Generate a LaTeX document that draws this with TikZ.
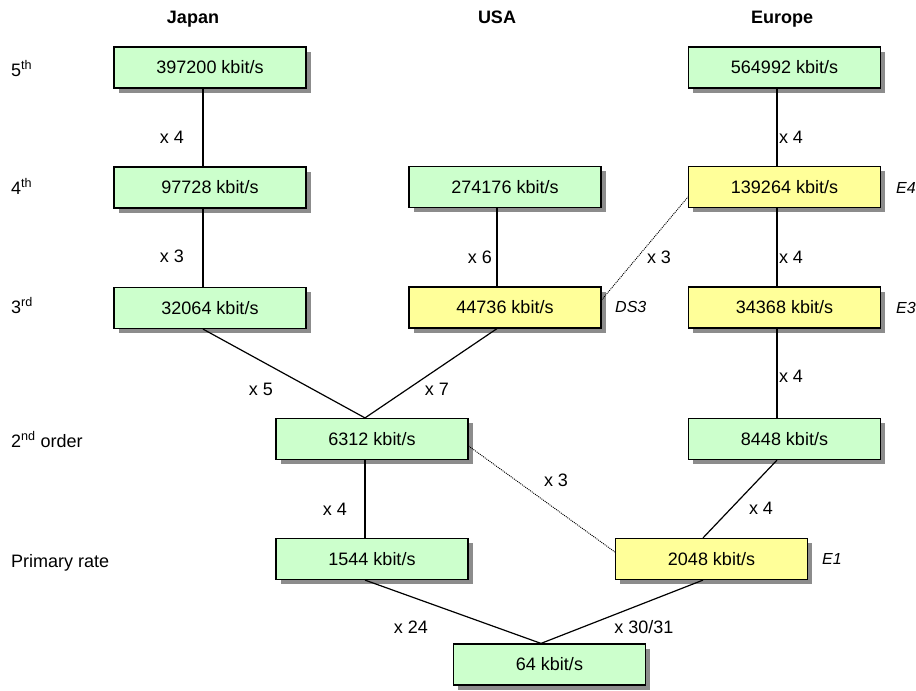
\documentclass[tikz,border=0pt]{standalone}
\usepackage{fontspec}
\setmainfont{Liberation Sans}
\usetikzlibrary{shadows}
\definecolor{ratgreen}{HTML}{CCFFCC}
\definecolor{ratyellow}{HTML}{FFFF99}
\begin{document}
\begin{tikzpicture}[x=1pt,y=-1pt,
  ratebox/.style={draw=black, line width=1.2pt, minimum width=192pt, minimum height=41pt,
    inner sep=0pt, font=\fontsize{18}{21}\selectfont,
    drop shadow={shadow xshift=4.5pt, shadow yshift=-4.5pt, opacity=1, fill=black!45}},
  gbox/.style={ratebox, fill=ratgreen},
  ybox/.style={ratebox, fill=ratyellow},
  link/.style={draw=black, line width=1.2pt},
  dotlink/.style={draw=black, line width=0.9pt, dash pattern=on 1pt off 1pt},
  mult/.style={font=\fontsize{18}{21}\selectfont, inner sep=0pt},
  rowlbl/.style={font=\fontsize{18}{21}\selectfont, inner sep=0pt, anchor=base west},
  head/.style={font=\bfseries\fontsize{18}{21}\selectfont, inner sep=0pt, anchor=base},
  tag/.style={font=\itshape\fontsize{16}{19}\selectfont, inner sep=0pt, anchor=west}]
\useasboundingbox (0,0) rectangle (916,691);

% column headings
\node[head] (hJ) at (193,23) {Japan};
\node[head] (hU) at (497,23) {USA};
\node[head] (hE) at (782,23) {Europe};

% hierarchy levels
\node[rowlbl] (r5) at (11,76) {5\textsuperscript{th}};
\node[rowlbl] (r4) at (11,194) {4\textsuperscript{th}};
\node[rowlbl] (r3) at (11,313) {3\textsuperscript{rd}};
\node[rowlbl] (r2) at (11,447) {2\textsuperscript{nd} order};
\node[rowlbl] (r1) at (11,567) {Primary rate};

% Japan
\node[gbox] (J5) at (210,67.5) {397200 kbit/s};
\node[gbox] (J4) at (210,187.5) {97728 kbit/s};
\node[gbox] (J3) at (210,308) {32064 kbit/s};
% USA
\node[gbox] (U4) at (505,187) {274176 kbit/s};
\node[ybox] (U3) at (505,307.5) {44736 kbit/s};
% Japan / USA shared
\node[gbox] (M2) at (372,439) {6312 kbit/s};
\node[gbox] (M1) at (372,559) {1544 kbit/s};
% Europe
\node[gbox] (E5) at (784.5,67.5) {564992 kbit/s};
\node[ybox] (E4) at (784.5,187) {139264 kbit/s};
\node[ybox] (E3) at (784.5,307.5) {34368 kbit/s};
\node[gbox] (E2) at (784.5,439) {8448 kbit/s};
\node[ybox] (E1) at (711.5,559) {2048 kbit/s};
% base channel
\node[gbox] (B) at (549.5,664.5) {64 kbit/s};

% standard designations
\node[tag] (tE4) at (896,188) {E4};
\node[tag] (tDS3) at (615,307) {DS3};
\node[tag] (tE3) at (896,308) {E3};
\node[tag] (tE1) at (822,559) {E1};

% multiplexing links
\draw[link] ([xshift=-7pt]J5.south) -- ([xshift=-7pt]J4.north);
\draw[link] ([xshift=-7pt]J4.south) -- ([xshift=-7pt]J3.north);
\draw[link] ([xshift=-8pt]U4.south) -- ([xshift=-8pt]U3.north);
\draw[link] ([xshift=-7.5pt]E5.south) -- ([xshift=-7.5pt]E4.north);
\draw[link] ([xshift=-7.5pt]E4.south) -- ([xshift=-7.5pt]E3.north);
\draw[link] ([xshift=-7.5pt]E3.south) -- ([xshift=-7.5pt]E2.north);
\draw[link] ([xshift=-7pt]J3.south) -- ([xshift=-7pt]M2.north);
\draw[link] ([xshift=-8pt]U3.south) -- ([xshift=-7pt]M2.north);
\draw[link] ([xshift=-7pt]M2.south) -- ([xshift=-7pt]M1.north);
\draw[link] ([xshift=-7.5pt]E2.south) -- ([xshift=-8.5pt]E1.north);
\draw[link] ([xshift=-7pt]M1.south) -- ([xshift=-8.5pt]B.north);
\draw[link] ([xshift=-8.5pt]E1.south) -- ([xshift=-8.5pt]B.north);
% cross-standard links
\draw[dotlink] ([yshift=7.5pt]U3.east) -- ([yshift=-10pt]E4.west);
\draw[dotlink] ([yshift=-7pt]M2.east) -- ([yshift=7pt]E1.west);

% multiplication factors
\node[mult] (m1) at (172,137) {x 4};
\node[mult] (m2) at (172,256) {x 3};
\node[mult] (m3) at (480,257) {x 6};
\node[mult] (m4) at (659,257) {x 3};
\node[mult] (m5) at (791,137) {x 4};
\node[mult] (m6) at (791,257) {x 4};
\node[mult] (m7) at (791,376) {x 4};
\node[mult] (m8) at (261,389) {x 5};
\node[mult] (m9) at (437,389) {x 7};
\node[mult] (m10) at (335,509) {x 4};
\node[mult] (m11) at (556,480) {x 3};
\node[mult] (m12) at (761,508) {x 4};
\node[mult] (m13) at (411,627) {x 24};
\node[mult] (m14) at (644,627) {x 30/31};
\end{tikzpicture}
\end{document}
